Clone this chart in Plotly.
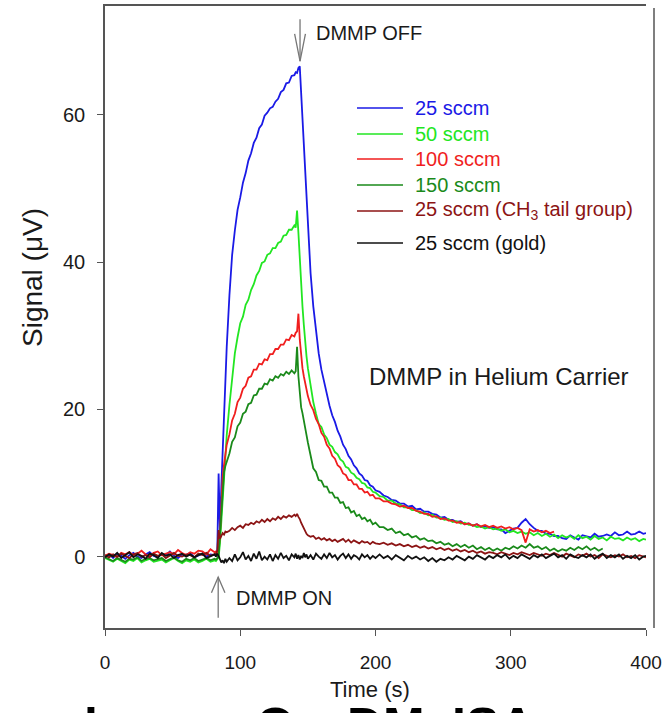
import plotly.graph_objects as go

# ---------------- data ----------------
time_s = [0, 3, 6, 9, 12, 15, 18, 21, 24, 27, 30, 33, 36, 39, 42, 45, 48, 51, 54, 57, 60, 63, 66, 69, 72, 75, 78, 81,
          82, 83, 84, 85, 86, 87, 88, 89, 90,
          92, 94, 96, 98, 100, 102, 104, 106, 108, 110, 112, 114, 116, 118, 120, 122, 124, 126, 128, 130, 132, 134, 136, 138, 140,
          141, 142, 143, 144, 145, 146, 147, 148, 149, 150,
          152, 154, 156, 158, 160, 162, 164, 166, 168, 170, 172, 174, 176, 178, 180, 182, 184, 186, 188, 190, 192, 194, 196, 198, 200,
          203, 206, 209, 212, 215, 218, 221, 224, 227, 230, 233, 236, 239, 242, 245, 248, 251, 254, 257, 260,
          263, 266, 269, 272, 275, 278, 281, 284, 287, 290, 293, 296, 299, 302, 305, 308, 311, 314, 317, 320,
          323, 326, 329, 332, 335, 338, 341, 344, 347, 350, 353, 356, 359, 362, 365, 368, 371, 374, 377, 380,
          383, 386, 389, 392, 395, 398,
          400]

sig_25 = [0.0, 0.3, -0.2, 0.4, 0.1, -0.3, 0.2, 0.5, 0.0, -0.2, 0.3, 0.6, 0.1, -0.1, 0.4, 0.2, 0.7, 0.1, -0.2, 0.3, 0.2, 0.5, -0.1, 0.2, 0.4, 0.0, 0.3, 0.2,
          0.3, 0.4, 11.3, 3.5, 9.5, 15.0, 20.0, 24.5, 28.5,
          35.5, 41.0, 44.3, 47.1, 48.8, 50.8, 52.1, 53.8, 54.8, 56.2, 56.9, 58.2, 58.7, 59.9, 60.3, 60.9, 61.1, 61.8, 62.2, 63.1, 63.4, 64.3, 64.4, 65.3, 65.4,
          65.8, 65.7, 66.4, 66.6, 63.0, 59.0, 55.0, 51.0, 47.5, 44.0,
          38.5, 34.0, 30.3, 27.6, 25.4, 23.6, 21.9, 20.5, 19.2, 18.3, 17.1, 16.3, 15.2, 14.6, 13.7, 13.2, 12.4, 12.0, 11.3, 11.0, 10.4, 10.3, 9.7, 9.5, 9.0,
          8.8, 8.3, 8.1, 7.7, 7.6, 7.2, 7.2, 6.8, 6.9, 6.4, 6.5, 6.1, 6.1, 5.8, 5.7, 5.3, 5.4, 5.0, 5.0, 4.7,
          4.8, 4.4, 4.5, 4.2, 4.4, 4.0, 4.1, 3.9, 4.0, 3.7, 3.7, 3.2, 3.5, 3.8, 3.9, 4.6, 5.1, 4.4, 3.9, 3.5,
          3.5, 3.1, 3.1, 2.8, 2.8, 2.5, 2.4, 2.9, 2.6, 2.3, 2.9, 2.7, 2.6, 3.1, 2.7, 2.8, 3.0, 2.8, 3.3, 2.9,
          3.0, 3.4, 3.0, 3.1, 3.4, 3.1,
          3.2]

sig_50 = [-0.2, -0.5, -0.7, -0.3, -0.6, -0.9, -0.4, -0.6, -0.2, -0.8, -0.5, -0.3, -0.7, -0.6, -0.4, -0.8, -0.5, -0.2, -0.6, -0.9, -0.5, -0.7, -0.4, -0.8, -0.6, -0.3, -0.7, -0.5,
          -0.6, -0.4, -0.1, 1.8, 5.0, 8.5, 11.5, 13.8, 16.5,
          20.6, 24.4, 27.6, 29.8, 31.7, 32.6, 34.2, 34.9, 36.2, 37.0, 38.2, 38.8, 39.9, 40.1, 41.0, 41.2, 41.9, 41.9, 42.6, 42.8, 43.6, 43.7, 44.4, 44.4, 45.0,
          44.7, 47.0, 44.0, 40.0, 37.0, 34.0, 31.5, 29.0, 27.2, 25.6,
          23.0, 21.0, 19.4, 18.0, 17.6, 16.6, 16.1, 15.2, 14.9, 14.2, 13.9, 13.2, 12.9, 12.2, 12.0, 11.4, 11.2, 10.7, 10.5, 10.0, 9.9, 9.4, 9.3, 8.8, 8.7,
          8.2, 8.1, 7.6, 7.6, 7.2, 7.1, 6.7, 6.7, 6.3, 6.3, 5.9, 6.0, 5.6, 5.7, 5.3, 5.3, 5.0, 5.1, 4.7, 4.8,
          4.5, 4.6, 4.3, 4.3, 4.0, 4.1, 3.8, 4.0, 3.7, 3.8, 3.5, 3.7, 3.3, 3.5, 3.2, 3.4, 3.1, 3.3, 2.9, 3.2,
          2.8, 3.1, 2.7, 3.0, 2.5, 2.9, 2.6, 2.8, 2.4, 2.9, 2.5, 2.7, 2.3, 2.8, 2.4, 2.6, 2.2, 2.7, 2.4, 2.5,
          2.2, 2.6, 2.3, 2.5, 2.1, 2.4,
          2.3]

sig_100 = [0.1, 0.4, 0.2, -0.1, 0.5, 0.3, 0.6, 0.2, 0.4, 0.8, 0.3, 0.1, 0.5, 0.7, 0.2, 0.4, 0.6, 0.3, 0.9, 0.5, 0.2, 0.6, 0.4, 0.8, 0.7, 0.3, 1.0, 0.6,
           0.7, 0.5, 0.9, 3.0, 7.5, 10.8, 12.5, 14.0, 15.2,
           16.6, 18.5, 19.4, 21.0, 21.6, 22.8, 23.2, 24.3, 24.5, 25.4, 25.4, 26.2, 26.1, 26.8, 26.7, 27.5, 27.5, 28.2, 28.2, 28.8, 28.8, 29.5, 29.4, 30.1, 29.9,
           30.4, 30.6, 33.0, 29.5, 27.0, 25.6, 24.5, 23.4, 22.5, 21.8,
           20.6, 19.9, 18.7, 18.0, 16.8, 16.3, 15.2, 14.7, 13.7, 13.3, 12.4, 12.1, 11.3, 11.1, 10.4, 10.4, 9.8, 9.8, 9.2, 9.2, 8.7, 8.8, 8.3, 8.4, 7.9,
           7.9, 7.5, 7.5, 7.2, 7.1, 6.8, 6.9, 6.6, 6.6, 6.2, 6.1, 5.8, 5.8, 5.4, 5.5, 5.1, 5.2, 4.9, 4.9, 4.6,
           4.7, 4.4, 4.5, 4.2, 4.4, 4.1, 4.3, 4.0, 4.2, 3.9, 4.1, 3.8, 4.0, 3.7, 3.9, 3.6, 1.9, 3.7, 3.4, 3.6,
           3.3, 3.5, 3.2, 3.4, None, None, None, None, None, None, None, None, None, None, None, None, None, None, None, None,
           None, None, None, None, None, None,
           None]

sig_150 = [-0.1, -0.4, -0.6, -0.2, -0.5, -0.7, -0.3, -0.4, -0.1, -0.6, -0.3, -0.2, -0.5, -0.4, -0.2, -0.6, -0.3, -0.1, -0.5, -0.7, -0.3, -0.5, -0.2, -0.6, -0.4, -0.2, -0.5, -0.3,
           -0.4, -0.2, 0.2, 3.0, 7.0, 10.0, 11.5, 12.3, 12.9,
           14.0, 15.6, 16.2, 17.7, 18.2, 19.4, 19.7, 20.7, 20.9, 21.9, 22.0, 22.8, 22.8, 23.5, 23.4, 24.1, 23.9, 24.5, 24.3, 24.8, 24.6, 25.1, 24.8, 25.3, 24.9,
           25.2, 28.5, 24.5, 21.7, 20.3, 19.5, 18.3, 17.5, 16.5, 15.5,
           13.6, 12.0, 11.5, 10.4, 10.3, 9.5, 9.5, 8.7, 8.7, 8.0, 8.0, 7.3, 7.4, 6.6, 6.7, 6.0, 6.2, 5.5, 5.7, 5.1, 5.3, 4.8, 5.0, 4.4, 4.6,
           4.0, 4.0, 3.6, 3.8, 3.2, 3.4, 2.9, 3.1, 2.6, 2.8, 2.3, 2.5, 2.1, 2.2, 1.8, 2.0, 1.6, 1.8, 1.4, 1.7,
           1.3, 1.6, 1.2, 1.5, 1.0, 1.3, 0.9, 1.2, 0.8, 1.1, 0.8, 1.2, 1.0, 1.4, 1.1, 1.5, 1.2, 1.7, 1.2, 1.4,
           1.0, 1.3, 0.8, 1.1, 0.7, 1.0, 0.8, 1.2, 0.9, 1.3, 1.0, 1.4, 0.9, 1.2, 0.8, 1.1, None, None, None, None,
           None, None, None, None, None, None,
           None]

sig_ch3 = [0.2, -0.1, 0.3, 0.0, 0.4, 0.1, -0.2, 0.3, 0.5, 0.0, 0.2, -0.1, 0.4, 0.1, 0.3, -0.2, 0.2, 0.5, 0.1, 0.0, 0.3, 0.2, -0.1, 0.4, 0.2, 0.5, 0.1, 0.3,
           0.4, 0.8, 3.6, 2.4, 2.8, 3.2, 3.0, 3.4, 3.3,
           3.5, 3.9, 3.6, 4.0, 4.2, 3.9, 4.4, 4.3, 4.6, 4.4, 4.8, 4.6, 5.0, 4.7, 5.1, 4.8, 5.2, 5.0, 5.4, 5.1, 5.5, 5.3, 5.6, 5.4, 5.7,
           5.5, 5.8, 5.4, 5.1, 4.6, 4.2, 3.8, 3.4, 3.1, 2.9,
           2.7, 2.8, 2.4, 2.6, 2.3, 2.5, 2.2, 2.4, 2.1, 2.3, 2.0, 2.2, 2.4, 2.0, 2.3, 1.9, 2.2, 2.0, 1.8, 2.1, 1.9, 2.0, 1.7, 2.0, 1.8,
           1.7, 1.9, 1.6, 1.8, 1.5, 1.7, 1.4, 1.6, 1.3, 1.5, 1.2, 1.4, 1.1, 1.3, 1.0, 1.2, 0.9, 1.1, 0.8, 1.0,
           0.7, 0.9, 0.6, 0.8, 0.5, 0.7, 0.4, 0.6, 0.5, 0.3, 0.6, 0.4, 0.2, 0.5, 0.3, 0.6, 0.4, 0.2, 0.5, 0.3,
           0.1, 0.4, 0.2, 0.5, 0.3, 0.0, 0.4, 0.2, -0.1, 0.3, 0.1, 0.4, 0.0, 0.2, -0.2, 0.3, 0.1, -0.1, 0.2, 0.0,
           0.3, -0.1, 0.1, -0.2, 0.2, 0.0,
           -0.1]

sig_gold = [-0.1, 0.3, 0.0, 0.5, -0.2, 0.2, 0.6, -0.1, 0.3, 0.1, -0.3, 0.4, 0.2, -0.2, 0.5, 0.1, 0.3, -0.2, 0.2, 0.4, 0.0, 0.3, -0.1, 0.2, 0.4, -0.2, 0.1, 0.3,
            0.0, 0.4, 0.1, -0.4, -0.8, -0.5, -0.9, -0.3, -0.7,
            -0.2, -0.6, 0.3, -0.5, -0.1, 0.6, -0.4, 0.1, -0.6, 0.4, -0.3, 0.7, -0.5, 0.0, -0.4, 0.3, -0.6, 0.2, -0.3, 0.5, -0.2, 0.1, -0.5, 0.3, -0.1,
            0.4, -0.3, 0.2, -0.4, 0.1, -0.2, 0.5, -0.1, 0.3, -0.3,
            0.2, -0.4, 0.4, 0.0, -0.3, 0.3, -0.2, 0.5, -0.1, 0.2, -0.4, 0.1, 0.4, -0.2, 0.3, -0.3, 0.2, 0.0, -0.4, 0.3, -0.1, 0.2, -0.3, 0.1, -0.2,
            0.3, -0.2, 0.1, -0.4, 0.2, -0.1, -0.5, 0.1, -0.3, 0.0, -0.4, -0.1, -0.6, -0.2, -0.7, -0.3, -0.5, -0.1, -0.4, 0.1,
            -0.2, -0.5, 0.0, -0.3, 0.2, -0.1, -0.4, 0.1, -0.2, 0.2, -0.1, 0.3, -0.3, 0.1, -0.2, 0.3, 0.0, -0.3, 0.2, -0.1,
            0.3, -0.2, 0.1, 0.4, -0.1, 0.2, -0.3, 0.3, 0.0, -0.2, 0.2, -0.1, 0.3, -0.3, 0.1, 0.4, -0.2, 0.2, -0.1, 0.3,
            -0.3, 0.1, -0.2, 0.2, -0.4, 0.0,
            0.1]

series_names = ["25 sccm", "50 sccm", "100 sccm", "150 sccm",
                "25 sccm (CH<sub>3</sub> tail group)", "25 sccm (gold)"]
series_values = [sig_25, sig_50, sig_100, sig_150, sig_ch3, sig_gold]
series_colors = ["#1a1ae6", "#22e622", "#f01e1e", "#1a8a1a", "#8c1414", "#111111"]

x_ticks = [0, 100, 200, 300, 400]
y_ticks = [0, 20, 40, 60]

for v in series_values:
    assert len(v) == len(time_s), (len(v), len(time_s))

FONT = "Liberation Sans, Arial, sans-serif"
TXT = "#1a1a1a"
AX = "#555555"

W, H = 668, 713
L, R, T, B = 105, 22, 6, 85
PW, PH = W - L - R, H - T - B


def px_x(p):
    return (p - L) / PW


def px_y(p):
    return 1 - (p - T) / PH


fig = go.Figure()
for name, vals, col in zip(series_names, series_values, series_colors):
    fig.add_trace(go.Scatter(
        x=time_s, y=vals, mode="lines", connectgaps=False,
        line=dict(color=col, width=1.8), name=name, showlegend=False,
    ))

fig.update_layout(
    width=W, height=H,
    margin=dict(l=L, r=R, t=T, b=B, autoexpand=False),
    paper_bgcolor="white", plot_bgcolor="white",
    font=dict(family=FONT, size=19, color=TXT),
    showlegend=False,
    xaxis=dict(range=[0, 400], tickvals=x_ticks, ticks="outside", ticklen=6,
               tickcolor=AX, showline=True, linecolor=AX, linewidth=1.5,
               mirror=True, showgrid=False, zeroline=False, automargin=False,
               tickfont=dict(family=FONT, size=19, color=TXT),
               ticklabelstandoff=10),
    yaxis=dict(range=[-9.7, 74.8], tickvals=y_ticks, ticks="outside", ticklen=6,
               tickcolor=AX, showline=True, linecolor=AX, linewidth=1.5,
               showgrid=False, zeroline=False, automargin=False,
               tickfont=dict(family=FONT, size=20, color=TXT),
               ticklabelstandoff=8),
)

# manual legend (colored sample line + colored label)
legend_rows_px = [108, 134, 159, 185, 211, 243]
for name, col, ry in zip(series_names, series_colors, legend_rows_px):
    fig.add_shape(type="line", xref="paper", yref="paper",
                  x0=px_x(357), x1=px_x(403), y0=px_y(ry), y1=px_y(ry),
                  line=dict(color=col, width=1.6))
    fig.add_annotation(xref="paper", yref="paper", x=px_x(413), y=px_y(ry),
                       xanchor="left", yanchor="middle", text=name,
                       showarrow=False,
                       font=dict(family=FONT, size=20, color=col))

# separate right-hand frame line
fig.add_shape(type="line", xref="paper", yref="paper",
              x0=px_x(654), x1=px_x(654), y0=0, y1=px_y(8),
              line=dict(color=AX, width=1.5))

# cropped slide text at the very bottom (only its top edge shows)
for txt, cx in [("l", 91), ("O", 275), ("DM", 386), ("ISA", 493)]:
    fig.add_annotation(xref="paper", yref="paper", x=px_x(cx), y=px_y(696),
                       xanchor="center", yanchor="top", text=f"<b>{txt}</b>",
                       showarrow=False,
                       font=dict(family=FONT, size=50, color="#000000"))

# axis titles
fig.add_annotation(xref="paper", yref="paper", x=px_x(32), y=px_y(278),
                   xanchor="center", yanchor="middle",
                   text="Signal (\u03bcV)", textangle=-90, showarrow=False,
                   font=dict(family=FONT, size=28, color=TXT))
fig.add_annotation(xref="paper", yref="paper", x=px_x(370), y=px_y(689),
                   xanchor="center", yanchor="middle", text="Time (s)",
                   showarrow=False, bgcolor="rgba(0,0,0,0)",
                   font=dict(family=FONT, size=22, color=TXT))

# DMMP OFF arrow + label
off_t = 144.2
fig.add_shape(type="line", x0=off_t, x1=off_t, y0=73.0, y1=67.3,
              line=dict(color="#777777", width=1.3))
fig.add_shape(type="path",
              path=f"M {off_t-4.0},71.0 L {off_t},67.3 L {off_t+4.0},71.0",
              line=dict(color="#777777", width=1.3))
fig.add_annotation(x=off_t + 10.5, y=71.2, xanchor="left", yanchor="middle",
                   text="DMMP OFF", showarrow=False,
                   font=dict(family=FONT, size=20, color=TXT))

# DMMP ON arrow + label
on_t = 83.7
fig.add_shape(type="line", x0=on_t, x1=on_t, y0=-8.3, y1=-2.8,
              line=dict(color="#777777", width=1.3))
fig.add_shape(type="path",
              path=f"M {on_t-5.0},-4.9 L {on_t},-2.8 L {on_t+5.0},-4.9",
              line=dict(color="#777777", width=1.3))
fig.add_annotation(x=on_t + 12, y=-5.6, xanchor="left", yanchor="middle",
                   text="DMMP ON", showarrow=False,
                   font=dict(family=FONT, size=20, color=TXT))

# in-plot caption
fig.add_annotation(x=193.5, y=24.5, xanchor="left", yanchor="middle",
                   text="DMMP in Helium Carrier", showarrow=False,
                   font=dict(family=FONT, size=24, color=TXT))

fig.write_html("out.html", config={"displayModeBar": False},
               post_script="document.body.style.margin='0px';")
